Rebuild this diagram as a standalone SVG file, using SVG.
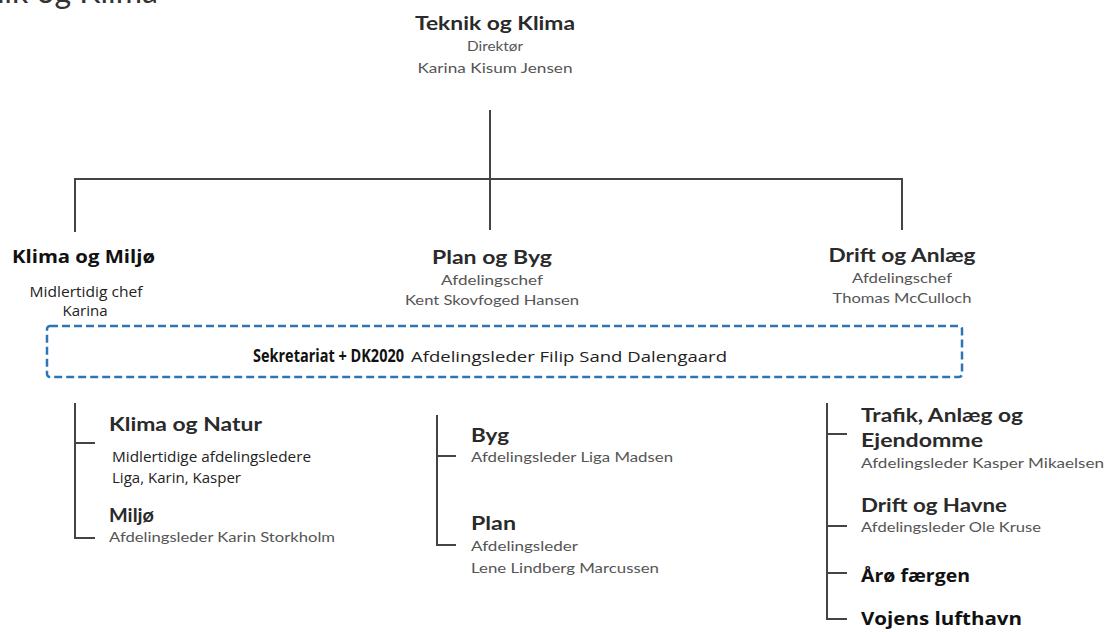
<svg xmlns="http://www.w3.org/2000/svg" width="1106" height="632" viewBox="0 0 1106 632">
<style>
.h{font-family:Lato,"Open Sans",sans-serif;font-weight:700;font-size:19px;fill:#2a2a2a}
.s{font-family:Lato,"Open Sans",sans-serif;font-size:13.5px;fill:#555}
.c{font-family:"Open Sans","Noto Sans",sans-serif;font-size:14px;fill:#222}
.cb{font-family:"Open Sans","Noto Sans",sans-serif;font-weight:700;font-size:18px;fill:#111}
.ln{stroke:#444;stroke-width:2;fill:none}
</style>
<rect width="1106" height="632" fill="#fff"/>
<text x="158" y="3" text-anchor="end" style="font-family:Lato,'Open Sans',sans-serif;font-size:32px;fill:#333">Teknik og Klima</text>
<g id="connectors">
<path class="ln" d="M490 110V230M75 232V179H902V230"/>
<path class="ln" d="M75 403V538H95M75 443H95"/>
<path class="ln" d="M437 415V545H456M437 456H456"/>
<path class="ln" d="M827 403V619H847M827 434H847M827 526H847M827 573H847"/>
</g>
<g id="top">
<text class="h" x="495" y="30" text-anchor="middle" textLength="160" lengthAdjust="spacingAndGlyphs">Teknik og Klima</text>
<text class="s" x="495" y="51" text-anchor="middle" textLength="56" lengthAdjust="spacingAndGlyphs">Direktør</text>
<text class="s" x="495" y="73" text-anchor="middle" textLength="155" lengthAdjust="spacingAndGlyphs">Karina Kisum Jensen</text>
</g>
<g id="klima-miljo">
<text class="cb" x="12" y="263" textLength="143" lengthAdjust="spacingAndGlyphs">Klima og Miljø</text>
<text class="c" x="86" y="297" text-anchor="middle" textLength="113" lengthAdjust="spacingAndGlyphs">Midlertidig chef</text>
<text class="c" x="85" y="316" text-anchor="middle" textLength="45" lengthAdjust="spacingAndGlyphs">Karina</text>
</g>
<g id="plan-byg">
<text class="h" x="492" y="264" text-anchor="middle" textLength="120" lengthAdjust="spacingAndGlyphs">Plan og Byg</text>
<text class="s" x="492" y="285" text-anchor="middle" textLength="102" lengthAdjust="spacingAndGlyphs">Afdelingschef</text>
<text class="s" x="492" y="305" text-anchor="middle" textLength="174" lengthAdjust="spacingAndGlyphs">Kent Skovfoged Hansen</text>
</g>
<g id="drift-anlaeg">
<text class="h" x="902" y="262" text-anchor="middle" textLength="147" lengthAdjust="spacingAndGlyphs">Drift og Anlæg</text>
<text class="s" x="902" y="283" text-anchor="middle" textLength="100" lengthAdjust="spacingAndGlyphs">Afdelingschef</text>
<text class="s" x="902" y="303" text-anchor="middle" textLength="139" lengthAdjust="spacingAndGlyphs">Thomas McCulloch</text>
</g>
<g id="sekretariat">
<rect x="47" y="326" width="915" height="51" rx="3" fill="none" stroke="#2e75b6" stroke-width="2.5" stroke-dasharray="8 4"/>
<text class="c" y="362" style="font-size:15px"><tspan class="cb" x="253" style="font-size:18px" textLength="151" lengthAdjust="spacingAndGlyphs">Sekretariat + DK2020</tspan><tspan x="411" textLength="316" lengthAdjust="spacingAndGlyphs">Afdelingsleder Filip Sand Dalengaard</tspan></text>
</g>
<g id="klima-natur">
<text class="h" x="109" y="431" textLength="153" lengthAdjust="spacingAndGlyphs">Klima og Natur</text>
<text class="c" x="112" y="462" textLength="199" lengthAdjust="spacingAndGlyphs">Midlertidige afdelingsledere</text>
<text class="c" x="112" y="483" textLength="129" lengthAdjust="spacingAndGlyphs">Liga, Karin, Kasper</text>
</g>
<g id="miljo">
<text class="h" x="109" y="522" textLength="45" lengthAdjust="spacingAndGlyphs">Miljø</text>
<text class="s" x="109" y="542" textLength="226" lengthAdjust="spacingAndGlyphs">Afdelingsleder Karin Storkholm</text>
</g>
<g id="byg">
<text class="h" x="471" y="442" textLength="38" lengthAdjust="spacingAndGlyphs">Byg</text>
<text class="s" x="471" y="462" textLength="202" lengthAdjust="spacingAndGlyphs">Afdelingsleder Liga Madsen</text>
</g>
<g id="plan">
<text class="h" x="471" y="530" textLength="45" lengthAdjust="spacingAndGlyphs">Plan</text>
<text class="s" x="471" y="551" textLength="107" lengthAdjust="spacingAndGlyphs">Afdelingsleder</text>
<text class="s" x="471" y="573" textLength="188" lengthAdjust="spacingAndGlyphs">Lene Lindberg Marcussen</text>
</g>
<g id="trafik">
<text class="h" x="861" y="422" textLength="162" lengthAdjust="spacingAndGlyphs">Trafik, Anlæg og</text>
<text class="h" x="861" y="447" textLength="122" lengthAdjust="spacingAndGlyphs">Ejendomme</text>
<text class="s" x="861" y="468" textLength="243" lengthAdjust="spacingAndGlyphs">Afdelingsleder Kasper Mikaelsen</text>
</g>
<g id="drift-havne">
<text class="h" x="861" y="512" textLength="146" lengthAdjust="spacingAndGlyphs">Drift og Havne</text>
<text class="s" x="861" y="532" textLength="180" lengthAdjust="spacingAndGlyphs">Afdelingsleder Ole Kruse</text>
</g>
<g id="aro">
<text class="cb" x="861" y="582" textLength="109" lengthAdjust="spacingAndGlyphs">Årø færgen</text>
</g>
<g id="vojens">
<text class="cb" x="861" y="625" textLength="161" lengthAdjust="spacingAndGlyphs">Vojens lufthavn</text>
</g>
</svg>
